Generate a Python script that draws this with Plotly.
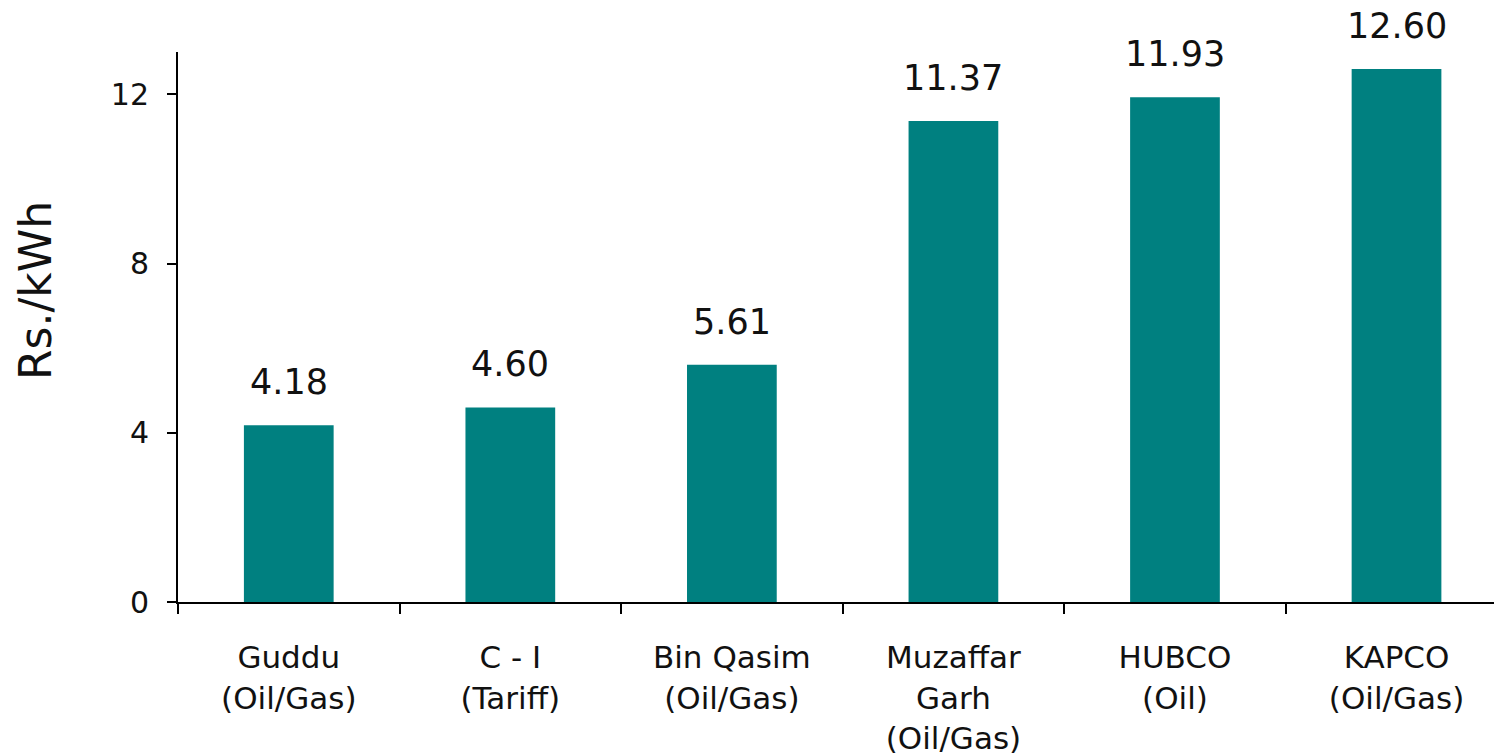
import plotly.graph_objects as go

categories = ["Guddu<br>(Oil/Gas)", "C - I<br>(Tariff)", "Bin Qasim<br>(Oil/Gas)",
              "Muzaffar<br>Garh<br>(Oil/Gas)", "HUBCO<br>(Oil)", "KAPCO<br>(Oil/Gas)"]
values = [4.18, 4.60, 5.61, 11.37, 11.93, 12.60]
value_labels = ["4.18", "4.60", "5.61", "11.37", "11.93", "12.60"]
y_ticks = [0, 4, 8, 12]
y_title = "Rs./kWh"

FONT = "DejaVu Sans"
TEAL = "#008080"
INK = "#111111"

fig = go.Figure()
fig.add_trace(go.Bar(x=categories, y=values, marker=dict(color=TEAL, line=dict(width=0)),
                     width=0.405, hoverinfo="skip"))

for c, v, t in zip(categories, values, value_labels):
    fig.add_annotation(x=c, y=v, text=t, showarrow=False, yanchor="bottom",
                       yshift=21, font=dict(family=FONT, size=35, color=INK))

fig.add_annotation(xref="paper", yref="paper", x=-0.1087, y=0.567, text=y_title,
                   textangle=-90, showarrow=False, xanchor="center", yanchor="middle",
                   font=dict(family=FONT, size=44, color=INK))

fig.update_layout(
    width=1494, height=755,
    margin=dict(l=178, r=0, t=52, b=153),
    paper_bgcolor="white", plot_bgcolor="white",
    showlegend=False,
    font=dict(family=FONT, color=INK),
)
fig.update_xaxes(
    type="category", range=[-0.5, 5.44],
    showline=True, linecolor="black", linewidth=2,
    ticks="outside", tickson="boundaries", ticklen=10, tickwidth=1.5, tickcolor="black",
    tickfont=dict(family=FONT, size=31, color=INK),
    ticklabelstandoff=27,
    showgrid=False, zeroline=False,
)
fig.update_yaxes(
    range=[0, 13], tickvals=y_ticks, ticktext=[str(v) for v in y_ticks],
    showline=True, linecolor="black", linewidth=2,
    ticks="outside", ticklen=9, tickwidth=1.5, tickcolor="black",
    tickfont=dict(family=FONT, size=30, color=INK),
    ticklabelstandoff=12,
    showgrid=False, zeroline=False,
)

fig.write_html("out.html")
